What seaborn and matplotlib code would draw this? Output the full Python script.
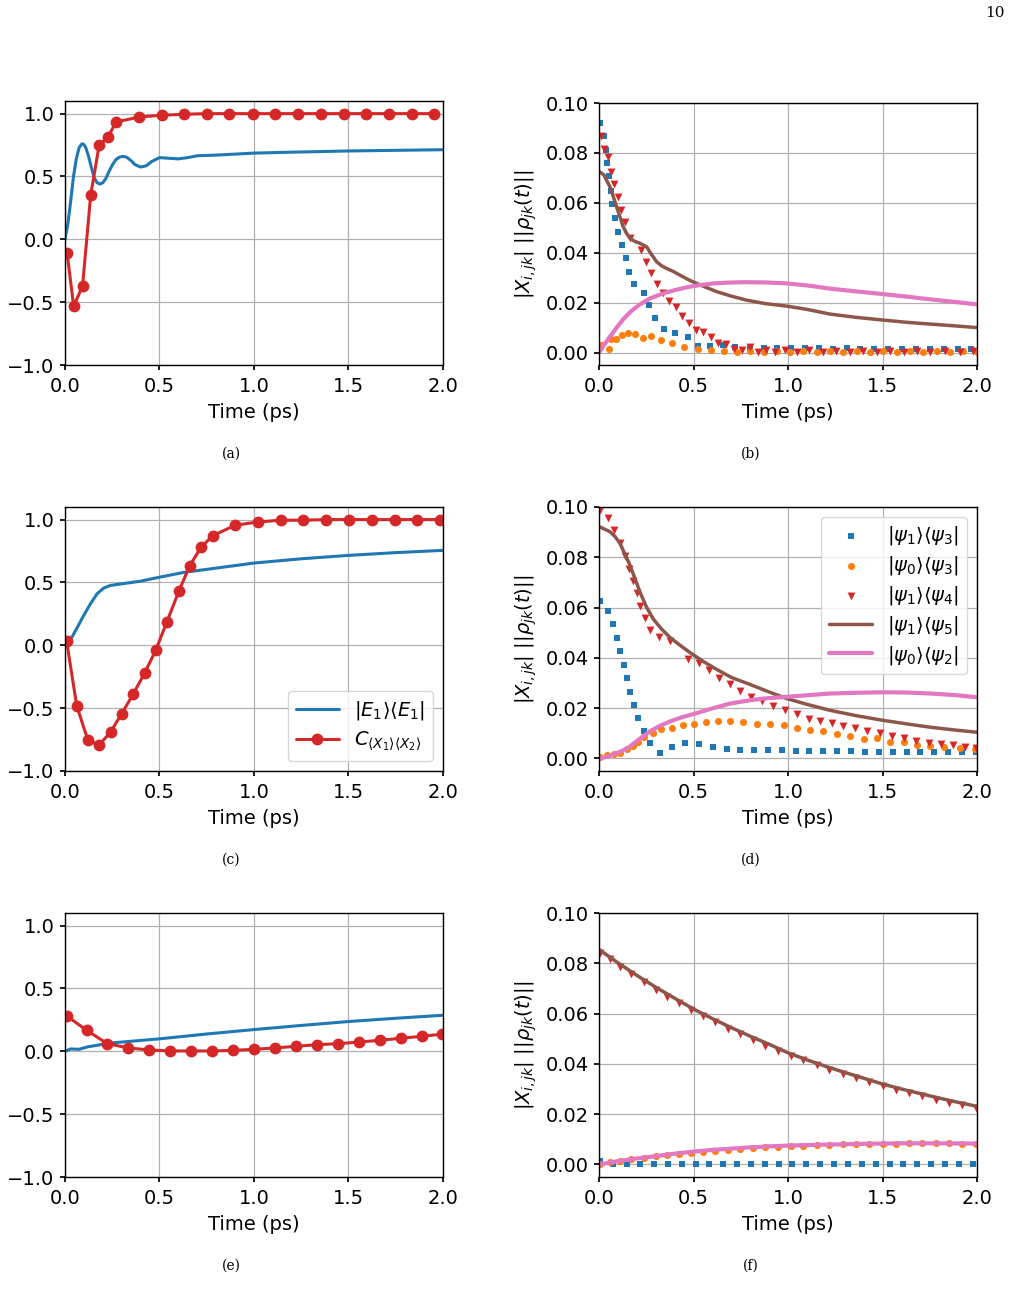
import numpy as np
import pandas as pd
import seaborn as sns
import matplotlib
matplotlib.use("Agg")
import matplotlib.pyplot as plt

# ---------------- data ----------------
# left column: |E1><E1| (line) and C_<X1><X2> (dots)
t_e1_a = [0, 0.015, 0.03, 0.045, 0.06, 0.075, 0.09, 0.10, 0.11, 0.125, 0.14, 0.155, 0.17,
          0.185, 0.20, 0.215, 0.23, 0.25, 0.27, 0.29, 0.31, 0.33, 0.35, 0.37, 0.40, 0.43,
          0.46, 0.50, 0.55, 0.60, 0.65, 0.70, 0.80, 1.0, 1.25, 1.5, 1.75, 2.0]
e1_a = [0, 0.12, 0.3, 0.5, 0.64, 0.73, 0.76, 0.755, 0.73, 0.66, 0.57, 0.49, 0.45, 0.44,
        0.45, 0.48, 0.53, 0.59, 0.635, 0.655, 0.66, 0.65, 0.625, 0.595, 0.575, 0.585, 0.62,
        0.65, 0.645, 0.64, 0.65, 0.665, 0.67, 0.686, 0.695, 0.703, 0.708, 0.713]
t_c_a = [0.011, 0.046, 0.093, 0.136, 0.181, 0.227, 0.271, 0.393, 0.511, 0.629, 0.752, 0.87,
         0.993, 1.113, 1.232, 1.354, 1.474, 1.593, 1.715, 1.836, 1.952]
c_a = [-0.106, -0.532, -0.372, 0.351, 0.75, 0.814, 0.934, 0.973, 0.987, 0.995, 1.0, 1.0,
       1.0, 1.0, 1.0, 1.0, 1.0, 1.0, 1.0, 1.0, 1.0]

t_e1_c = [0, 0.039, 0.07, 0.1, 0.135, 0.17, 0.205, 0.24, 0.33, 0.40, 0.505, 0.63, 0.80,
          1.0, 1.25, 1.5, 1.75, 2.0]
e1_c = [0, 0.07, 0.155, 0.24, 0.33, 0.41, 0.455, 0.476, 0.495, 0.51, 0.543, 0.58, 0.614,
        0.654, 0.688, 0.715, 0.737, 0.755]
t_c_c = [0.009, 0.062, 0.121, 0.181, 0.241, 0.301, 0.361, 0.421, 0.481, 0.54, 0.602, 0.66,
         0.72, 0.782, 0.901, 1.021, 1.143, 1.262, 1.382, 1.504, 1.623, 1.745, 1.864, 1.984]
c_c = [0.03, -0.48, -0.755, -0.795, -0.69, -0.543, -0.388, -0.223, -0.037, 0.189, 0.428,
       0.633, 0.779, 0.872, 0.955, 0.981, 0.995, 0.995, 1.0, 1.0, 1.0, 1.0, 1.0, 1.0]

t_e1_e = [0, 0.03, 0.074, 0.118, 0.24, 0.505, 0.75, 1.0, 1.25, 1.5, 1.75, 2.0]
e1_e = [0, 0.019, 0.016, 0.035, 0.066, 0.10, 0.138, 0.173, 0.206, 0.237, 0.263, 0.287]
t_c_e = [0.009, 0.114, 0.224, 0.335, 0.445, 0.558, 0.667, 0.778, 0.889, 1.0, 1.113, 1.224,
         1.336, 1.447, 1.558, 1.667, 1.78, 1.89, 1.993]
c_e = [0.282, 0.168, 0.061, 0.027, 0.011, 0.003, 0.003, 0.003, 0.008, 0.016, 0.027, 0.04,
       0.053, 0.061, 0.074, 0.088, 0.104, 0.12, 0.136]

# right column: coherences
# (b)
t_b13 = [0.005, 0.025, 0.037, 0.044, 0.051, 0.062, 0.069, 0.083, 0.10, 0.122, 0.143, 0.157,
         0.182, 0.235, 0.263, 0.297, 0.343, 0.403, 0.468, 0.525, 0.587, 0.657, 0.72, 0.80,
         0.87, 0.943, 1.017, 1.09, 1.163, 1.237, 1.31, 1.383, 1.457, 1.53, 1.603, 1.677,
         1.75, 1.823, 1.897, 1.97]
b13 = [0.092, 0.0869, 0.081, 0.0759, 0.0708, 0.0649, 0.0596, 0.054, 0.0485, 0.0431, 0.038,
       0.0324, 0.0274, 0.024, 0.019, 0.0137, 0.0096, 0.008, 0.0062, 0.0027, 0.0027, 0.003,
       0.0023, 0.0019, 0.0019, 0.0017, 0.0018, 0.0017, 0.0017, 0.0016, 0.0017, 0.0016,
       0.0016, 0.0016, 0.0016, 0.0016, 0.0016, 0.0016, 0.0016, 0.0016]
t_b03 = [0.012, 0.051, 0.062, 0.088, 0.12, 0.155, 0.19, 0.231, 0.272, 0.325, 0.387, 0.449,
         0.521, 0.592, 0.66, 0.728, 0.799, 0.87, 0.94, 1.01, 1.08, 1.152, 1.222, 1.293,
         1.363, 1.434, 1.504, 1.575, 1.645, 1.716, 1.787, 1.857, 1.928, 1.998]
b03 = [0.0032, 0.0016, 0.0056, 0.0056, 0.007, 0.008, 0.0075, 0.006, 0.0066, 0.0052, 0.0039,
       0.0024, 0.0016, 0.0011, 0.0006, 0.0004, 0.0007, 0.0004, 0.0006, 0.0004, 0.0006,
       0.0004, 0.0005, 0.0004, 0.0005, 0.0004, 0.0005, 0.0004, 0.0005, 0.0004, 0.0005,
       0.0004, 0.0005, 0.0004]
t_b14 = [0.009, 0.025, 0.046, 0.062, 0.081, 0.099, 0.115, 0.138, 0.166, 0.221, 0.247, 0.272,
         0.304, 0.336, 0.369, 0.405, 0.44, 0.475, 0.511, 0.549, 0.592, 0.631, 0.67, 0.714,
         0.756, 0.799, 0.841, 0.883, 0.931, 0.981, 1.046, 1.113, 1.184, 1.254, 1.325, 1.396,
         1.47, 1.541, 1.611, 1.682, 1.753, 1.83, 1.91, 1.98]
b14 = [0.0866, 0.0817, 0.0782, 0.0724, 0.0676, 0.0625, 0.0572, 0.0522, 0.046, 0.0411,
       0.0364, 0.0317, 0.0273, 0.024, 0.0207, 0.0182, 0.0147, 0.0119, 0.009, 0.0082, 0.0063,
       0.004, 0.0036, 0.0016, 0.0012, 0.0023, 0.0004, 0.0012, 0.0001, 0.0011, 0.0003,
       0.0009, 0.0003, 0.0008, 0.0003, 0.0008, 0.0003, 0.0008, 0.0003, 0.0008, 0.0003,
       0.0008, 0.0003, 0.0008]
t_b15 = [0, 0.025, 0.057, 0.075, 0.092, 0.11, 0.127, 0.145, 0.163, 0.19, 0.216, 0.251, 0.28,
         0.304, 0.33, 0.357, 0.39, 0.428, 0.47, 0.516, 0.57, 0.622, 0.70, 0.78, 0.88, 0.993,
         1.1, 1.223, 1.36, 1.505, 1.63, 1.753, 1.88, 2.0]
b15 = [0.0726, 0.0712, 0.0665, 0.0625, 0.0585, 0.0545, 0.0505, 0.0478, 0.0458, 0.0445,
       0.0438, 0.0424, 0.039, 0.0364, 0.0348, 0.0337, 0.0326, 0.031, 0.0293, 0.0277, 0.026,
       0.0244, 0.0226, 0.021, 0.0196, 0.0186, 0.0173, 0.0154, 0.0141, 0.013, 0.0121,
       0.0114, 0.0107, 0.010]
t_b02 = [0, 0.03, 0.057, 0.09, 0.127, 0.17, 0.216, 0.27, 0.339, 0.41, 0.48, 0.54, 0.604,
         0.68, 0.763, 0.88, 0.993, 1.1, 1.223, 1.36, 1.505, 1.63, 1.753, 1.88, 2.0]
b02 = [0, 0.0035, 0.0063, 0.0097, 0.0133, 0.0166, 0.0193, 0.0217, 0.0237, 0.0252, 0.0264,
       0.0271, 0.0277, 0.028, 0.0282, 0.0281, 0.0277, 0.0269, 0.0256, 0.0245, 0.0234,
       0.0224, 0.0213, 0.0203, 0.0193]

# (d)
t_d13 = [0.005, 0.049, 0.074, 0.094, 0.11, 0.131, 0.147, 0.166, 0.187, 0.208, 0.235, 0.27,
         0.322, 0.387, 0.456, 0.53, 0.601, 0.675, 0.747, 0.82, 0.892, 0.966, 1.04, 1.113,
         1.187, 1.26, 1.333, 1.407, 1.48, 1.553, 1.627, 1.70, 1.773, 1.847, 1.92, 1.993]
d13 = [0.0626, 0.0586, 0.0533, 0.0479, 0.0426, 0.0372, 0.0318, 0.0266, 0.0211, 0.016, 0.011,
       0.006, 0.0023, 0.0045, 0.006, 0.0056, 0.0045, 0.0037, 0.0035, 0.0033, 0.0033, 0.0032,
       0.003, 0.0029, 0.0029, 0.0028, 0.0028, 0.0027, 0.0027, 0.0027, 0.0026, 0.0026,
       0.0026, 0.0025, 0.0025, 0.0025]
t_d03 = [0.005, 0.042, 0.078, 0.113, 0.145, 0.177, 0.205, 0.239, 0.283, 0.329, 0.387, 0.445,
         0.502, 0.564, 0.627, 0.693, 0.763, 0.834, 0.905, 0.979, 1.046, 1.117, 1.187, 1.258,
         1.329, 1.4, 1.47, 1.541, 1.611, 1.682, 1.753, 1.823, 1.912, 1.99]
d03 = [0.0004, 0.0013, 0.0017, 0.0023, 0.0036, 0.0048, 0.0066, 0.0087, 0.01, 0.0116, 0.0119,
       0.0131, 0.0138, 0.0144, 0.015, 0.015, 0.0144, 0.0138, 0.0136, 0.0131, 0.012, 0.0114,
       0.011, 0.0096, 0.009, 0.0076, 0.008, 0.0067, 0.0067, 0.0053, 0.0049, 0.0047, 0.004,
       0.0036]
t_d14 = [0.005, 0.046, 0.081, 0.11, 0.136, 0.159, 0.178, 0.198, 0.219, 0.242, 0.269, 0.318,
         0.375, 0.468, 0.527, 0.581, 0.636, 0.691, 0.747, 0.804, 0.864, 0.922, 0.984, 1.046,
         1.11, 1.17, 1.231, 1.293, 1.355, 1.417, 1.484, 1.55, 1.611, 1.678, 1.744, 1.809,
         1.873, 1.935, 1.995]
d14 = [0.099, 0.0956, 0.0908, 0.0858, 0.0806, 0.0753, 0.0705, 0.0658, 0.0606, 0.0559,
       0.0512, 0.0481, 0.0468, 0.0394, 0.0378, 0.035, 0.0321, 0.0294, 0.027, 0.0245, 0.0227,
       0.021, 0.0191, 0.0178, 0.0156, 0.0147, 0.0139, 0.0127, 0.0119, 0.011, 0.010, 0.009,
       0.008, 0.0071, 0.0063, 0.0057, 0.0052, 0.0047, 0.0043]
t_d15 = [0, 0.057, 0.085, 0.11, 0.135, 0.163, 0.19, 0.216, 0.25, 0.286, 0.33, 0.375, 0.43,
         0.481, 0.55, 0.622, 0.70, 0.799, 0.9, 0.993, 1.1, 1.223, 1.36, 1.505, 1.63, 1.753,
         1.88, 2.0]
d15 = [0.0922, 0.0902, 0.0882, 0.0856, 0.0815, 0.0769, 0.0715, 0.0662, 0.0603, 0.0555,
       0.0515, 0.0481, 0.0449, 0.0421, 0.0386, 0.0354, 0.0322, 0.0294, 0.0264, 0.0238,
       0.0215, 0.0191, 0.017, 0.0151, 0.0137, 0.0124, 0.0113, 0.0104]
t_d02 = [0, 0.05, 0.092, 0.13, 0.163, 0.21, 0.269, 0.32, 0.375, 0.44, 0.516, 0.6, 0.693,
         0.78, 0.869, 0.993, 1.1, 1.223, 1.36, 1.505, 1.63, 1.753, 1.88, 2.0]
d02 = [0, 0.0008, 0.002, 0.0033, 0.0047, 0.0075, 0.0107, 0.0129, 0.0147, 0.0164, 0.018,
       0.0199, 0.0218, 0.0229, 0.0238, 0.0245, 0.0251, 0.0258, 0.0261, 0.0263, 0.0262,
       0.0258, 0.0252, 0.0243]

# (f)
t_f13 = [0.007, 0.074, 0.145, 0.219, 0.292, 0.366, 0.438, 0.511, 0.583, 0.657, 0.73, 0.803,
         0.877, 0.95, 1.023, 1.097, 1.17, 1.243, 1.317, 1.39, 1.463, 1.537, 1.61, 1.683,
         1.757, 1.83, 1.903, 1.977]
f13 = [0.0012, 0.0003, 0.0001, 0, 0, 0, 0, 0, 0, 0, 0, 0, 0, 0, 0, 0, 0, 0, 0, 0, 0, 0, 0,
       0, 0, 0, 0, 0]
t_f14 = [0.007, 0.057, 0.113, 0.171, 0.238, 0.300, 0.360, 0.422, 0.488, 0.548, 0.613, 0.680,
         0.745, 0.813, 0.878, 0.945, 1.014, 1.081, 1.152, 1.219, 1.290, 1.359, 1.429, 1.500,
         1.571, 1.641, 1.710, 1.783, 1.853, 1.922, 1.996]
f14 = [0.0843, 0.0816, 0.0787, 0.0757, 0.0724, 0.0695, 0.0668, 0.0641, 0.0614, 0.0590,
       0.0565, 0.0540, 0.0518, 0.0495, 0.0473, 0.0453, 0.0432, 0.0414, 0.0394, 0.0377,
       0.0360, 0.0343, 0.0327, 0.0312, 0.0298, 0.0284, 0.0271, 0.0258, 0.0246, 0.0235,
       0.0224]
f03 = [0.0002, 0.0008, 0.0014, 0.0020, 0.0027, 0.0032, 0.0037, 0.0042, 0.0047, 0.0051,
       0.0055, 0.0059, 0.0062, 0.0065, 0.0068, 0.0070, 0.0073, 0.0075, 0.0077, 0.0078,
       0.0080, 0.0081, 0.0082, 0.0083, 0.0083, 0.0084, 0.0084, 0.0084, 0.0084, 0.0083,
       0.0083]
t_f15 = [0, 0.1, 0.2, 0.3, 0.4, 0.5, 0.6, 0.7, 0.8, 0.9, 1.0, 1.1, 1.2, 1.3, 1.4, 1.5, 1.6,
         1.7, 1.8, 1.9, 2.0]
f15 = [0.0855, 0.0802, 0.0752, 0.0705, 0.0661, 0.0618, 0.058, 0.0544, 0.051, 0.0478, 0.0444,
       0.0416, 0.039, 0.0366, 0.0343, 0.032, 0.030, 0.0282, 0.0264, 0.0247, 0.0231]
t_f02 = [0, 0.1, 0.2, 0.3, 0.4, 0.5, 0.6, 0.7, 0.8, 0.9, 1.0, 1.2, 1.4, 1.6, 1.8, 2.0]
f02 = [0, 0.0013, 0.0024, 0.0033, 0.0043, 0.0051, 0.0058, 0.0063, 0.0068, 0.0072, 0.0075,
       0.0079, 0.0082, 0.0084, 0.0084, 0.0083]

# ---------------- style ----------------
sns.set_theme(style="ticks", rc={
    "axes.grid": True, "grid.color": "#b0b0b0", "grid.linewidth": 0.9,
    "axes.edgecolor": "black", "axes.linewidth": 1.0,
    "xtick.color": "black", "ytick.color": "black",
    "text.color": "black", "axes.labelcolor": "black",
    "xtick.major.size": 3.5, "ytick.major.size": 3.5,
    "xtick.major.pad": 5, "ytick.major.pad": 4, "axes.labelpad": 5,
    "xtick.labelsize": 14, "ytick.labelsize": 14, "axes.labelsize": 14,
})
plt.rcParams["font.family"] = ["DejaVu Sans"]
plt.rcParams["mathtext.fontset"] = "dejavusans"

BLUE, ORANGE, RED, BROWN, PINK = "#1f77b4", "#ff7f0e", "#d62728", "#8c564b", "#e377c2"

fig = plt.figure(figsize=(10.12, 12.99), dpi=100)
bottoms = [0.7190, 0.4065, 0.0939]
W, H = 0.3735, 0.2032


def left_panel(ax, te, e, tc, c, legend=False):
    sns.lineplot(x=te, y=e, ax=ax, color=BLUE, lw=2.2, label=r"$|E_1\rangle\langle E_1|$")
    sns.lineplot(x=tc, y=c, ax=ax, color=RED, lw=2.2, marker="o", markersize=8.5,
                 mec=RED, mew=0, label=r"$C_{\langle X_1\rangle\langle X_2\rangle}$")
    ax.set_xlim(0, 2)
    ax.set_ylim(-1.0, 1.1)
    ax.set_xticks([0, 0.5, 1.0, 1.5, 2.0])
    ax.set_yticks([-1.0, -0.5, 0.0, 0.5, 1.0])
    ax.set_xlabel("Time (ps)")
    ax.set_ylabel("")
    if legend:
        ax.legend(loc="lower right", fontsize=14, handlelength=2.2, borderpad=0.4,
                  labelspacing=0.4)
    else:
        ax.get_legend().remove()


def right_panel(ax, s13, s03, s14, l15, l02, legend=False):
    sns.scatterplot(x=s13[0], y=s13[1], ax=ax, color=BLUE, marker="s", s=24, linewidth=0,
                    label=r"$|\psi_1\rangle\langle\psi_3|$")
    sns.scatterplot(x=s03[0], y=s03[1], ax=ax, color=ORANGE, marker="o", s=26, linewidth=0,
                    label=r"$|\psi_0\rangle\langle\psi_3|$")
    sns.scatterplot(x=s14[0], y=s14[1], ax=ax, color=RED, marker="v", s=32, linewidth=0,
                    label=r"$|\psi_1\rangle\langle\psi_4|$")
    sns.lineplot(x=l15[0], y=l15[1], ax=ax, color=BROWN, lw=2.5,
                 label=r"$|\psi_1\rangle\langle\psi_5|$")
    sns.lineplot(x=l02[0], y=l02[1], ax=ax, color=PINK, lw=3.0,
                 label=r"$|\psi_0\rangle\langle\psi_2|$")
    ax.set_xlim(0, 2)
    ax.set_ylim(-0.005, 0.1)
    ax.set_xticks([0, 0.5, 1.0, 1.5, 2.0])
    ax.set_yticks([0, 0.02, 0.04, 0.06, 0.08, 0.10])
    ax.set_yticklabels(["0.00", "0.02", "0.04", "0.06", "0.08", "0.10"])
    ax.set_xlabel("Time (ps)")
    ax.set_ylabel(r"$|X_{i,jk}|\ ||\rho_{jk}(t)||$")
    if legend:
        ax.legend(loc="upper right", fontsize=14, handlelength=2.2, borderpad=0.4,
                  labelspacing=0.35)
    else:
        ax.get_legend().remove()


ax_a = fig.add_axes([0.0642, bottoms[0], W, H])
ax_b = fig.add_axes([0.592, bottoms[0], W, H - 0.0015])
ax_c = fig.add_axes([0.0642, bottoms[1], W, H])
ax_d = fig.add_axes([0.592, bottoms[1], W, H])
ax_e = fig.add_axes([0.0642, bottoms[2], W, H])
ax_f = fig.add_axes([0.592, bottoms[2], W, H])

left_panel(ax_a, t_e1_a, e1_a, t_c_a, c_a)
left_panel(ax_c, t_e1_c, e1_c, t_c_c, c_c, legend=True)
left_panel(ax_e, t_e1_e, e1_e, t_c_e, c_e)

right_panel(ax_b, (t_b13, b13), (t_b03, b03), (t_b14, b14), (t_b15, b15), (t_b02, b02))
right_panel(ax_d, (t_d13, d13), (t_d03, d03), (t_d14, d14), (t_d15, d15), (t_d02, d02),
            legend=True)
right_panel(ax_f, (t_f13, f13), (t_f14, f03), (t_f14, f14), (t_f15, f15), (t_f02, f02))

for ax in [ax_a, ax_b, ax_c, ax_d, ax_e, ax_f]:
    for sp in ax.spines.values():
        sp.set_visible(True)
        sp.set_color("black")

# sub-figure captions and page number
cap_font = dict(family="DejaVu Serif", fontsize=10, ha="center", va="center")
for lab, x, y in [("(a)", 231, 454), ("(b)", 751, 454), ("(c)", 231, 860),
                  ("(d)", 751, 860), ("(e)", 231, 1266), ("(f)", 751, 1266)]:
    fig.text(x / 1012, 1 - y / 1299, lab, **cap_font)
fig.text(995 / 1012, 1 - 13 / 1299, "10", family="DejaVu Serif", fontsize=11,
         ha="center", va="center")

fig.savefig("out.png", dpi=100)
